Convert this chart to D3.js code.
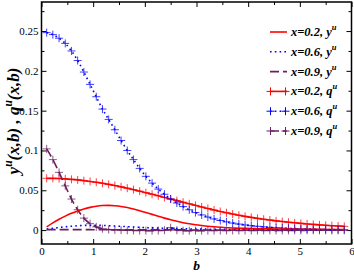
<!DOCTYPE html>
<html><head><meta charset="utf-8">
<script src="https://cdn.jsdelivr.net/npm/d3@7/dist/d3.min.js"></script>
<style>
html,body{margin:0;padding:0;background:#fff;}
svg{display:block;}
</style></head>
<body>
<svg id="chart" width="354" height="273"></svg>
<script>
// impact parameter grid
const bVals = [0.10,0.22,0.34,0.46,0.58,0.70,0.82,0.94,1.06,1.18,1.30,1.42,1.54,1.66,1.78,1.90,2.02,2.14,2.26,2.38,2.50,2.62,2.74,2.86,2.98,3.10,3.22,3.34,3.46,3.58,3.70,3.82,3.94,4.06,4.18,4.30,4.42,4.54,4.66,4.78,4.90,5.02,5.14,5.26,5.38,5.50,5.62,5.74,5.86];

const yu_x02 = [0.0040,0.0090,0.0135,0.0175,0.0210,0.0240,0.0265,0.0285,0.0300,0.0308,0.0310,0.0306,0.0297,0.0283,0.0265,0.0244,0.0221,0.0197,0.0173,0.0150,0.0129,0.0110,0.0093,0.0079,0.0067,0.0057,0.0048,0.0041,0.0035,0.0030,0.0026,0.0023,0.0021,0.0019,0.0017,0.0016,0.0015,0.0014,0.0013,0.0012,0.0011,0.0010,0.0010,0.0009,0.0009,0.0008,0.0008,0.0007,0.0007];
const yu_x06 = [0.0012,0.0022,0.0032,0.0041,0.0048,0.0054,0.0058,0.0060,0.0060,0.0058,0.0055,0.0051,0.0047,0.0043,0.0039,0.0035,0.0031,0.0028,0.0025,0.0022,0.0020,0.0018,0.0016,0.0014,0.0013,0.0012,0.0011,0.0010,0.0009,0.0008,0.0007,0.0007,0.0006,0.0006,0.0005,0.0005,0.0004,0.0004,0.0004,0.0003,0.0003,0.0003,0.0003,0.0002,0.0002,0.0002,0.0002,0.0002,0.0002];
const yu_x09 = [0.0006,0.0006,0.0006,0.0006,0.0005,0.0005,0.0005,0.0005,0.0004,0.0004,0.0004,0.0004,0.0003,0.0003,0.0003,0.0003,0.0003,0.0002,0.0002,0.0002,0.0002,0.0002,0.0002,0.0002,0.0001,0.0001,0.0001,0.0001,0.0001,0.0001,0.0001,0.0001,0.0001,0.0001,0.0001,0.0001,0.0001,0.0001,0.0001,0.0001,0.0001,0.0001,0.0001,0.0001,0.0001,0.0001,0.0001,0.0001,0.0001];
const qu_x02 = [0.0650,0.0649,0.0647,0.0643,0.0637,0.0630,0.0621,0.0611,0.0600,0.0588,0.0574,0.0559,0.0543,0.0526,0.0508,0.0489,0.0470,0.0450,0.0430,0.0410,0.0390,0.0370,0.0350,0.0330,0.0310,0.0290,0.0271,0.0252,0.0234,0.0217,0.0201,0.0186,0.0172,0.0159,0.0147,0.0136,0.0126,0.0116,0.0107,0.0099,0.0091,0.0084,0.0077,0.0071,0.0065,0.0060,0.0055,0.0051,0.0047];
const qu_x06 = [0.2480,0.2455,0.2410,0.2345,0.2250,0.2130,0.1985,0.1830,0.1675,0.1520,0.1390,0.1260,0.1125,0.1000,0.0885,0.0775,0.0675,0.0590,0.0515,0.0450,0.0390,0.0340,0.0295,0.0255,0.0220,0.0190,0.0163,0.0140,0.0120,0.0103,0.0088,0.0075,0.0064,0.0055,0.0047,0.0040,0.0034,0.0029,0.0025,0.0021,0.0018,0.0015,0.0013,0.0011,0.0009,0.0008,0.0007,0.0006,0.0005];
const qu_x09 = [0.1020,0.0885,0.0725,0.0555,0.0390,0.0255,0.0150,0.0080,0.0040,0.0018,0.0007,0.0002,0.0000,-0.0003,-0.0005,-0.0006,-0.0007,-0.0007,-0.0006,-0.0002,0.0030,-0.0002,-0.0008,-0.0008,-0.0007,-0.0007,-0.0006,-0.0006,-0.0006,-0.0005,-0.0005,-0.0005,-0.0005,-0.0005,-0.0005,-0.0004,-0.0004,-0.0004,-0.0004,-0.0004,-0.0004,-0.0004,-0.0003,-0.0003,-0.0003,-0.0003,-0.0003,-0.0003,-0.0003];

const xTicks = [0,1,2,3,4,5,6];
const yTicks = [0,0.05,0.1,0.15,0.2,0.25];
const yTickLabels = ["0","0.05","0.1","0.15","0.2","0.25"];

const seriesNames = ["x=0.2, y","x=0.6, y","x=0.9, y","x=0.2, q","x=0.6, q","x=0.9, q"];
const seriesData = [yu_x02, yu_x06, yu_x09, qu_x02, qu_x06, qu_x09];
const seriesColor = ["#ff0000","#0000ff","#6a1f5e","#ff0000","#0000ff","#6a1f5e"];
const seriesDash = [null,"1.6,3.2","9,4",null,"1.6,3.2","9,4"];
const seriesMarker = [false,false,false,true,true,true];

const SERIF = "Liberation Serif";
const svg = d3.select("#chart");
const pL = 41.5, pR = 351.5, pT = 2, pB = 244;

const x = d3.scaleLinear().domain([0,6]).range([pL, pR]);
const y = d3.scaleLinear().domain([-0.0175, 0.2865]).range([pB, pT]);

svg.append("defs").append("clipPath").attr("id","clip")
  .append("rect").attr("x",pL).attr("y",pT).attr("width",pR-pL).attr("height",pB-pT);

const xMinor = [0.5,1.5,2.5,3.5,4.5,5.5];
const yMinor = [0.025,0.075,0.125,0.175,0.225,0.275];

function drawAxis(axisGen, transform){
  const g = svg.append("g").attr("transform", transform).call(axisGen)
    .attr("font-family", SERIF).attr("font-size", 11);
  g.select(".domain").remove();
  g.selectAll("line").attr("stroke","#000").attr("stroke-width",1);
  g.selectAll("text").attr("fill","#000");
  return g;
}
drawAxis(d3.axisBottom(x).tickValues(xTicks).tickSize(-5).tickPadding(3.5).tickFormat(d3.format("d")), `translate(0,${pB})`);
drawAxis(d3.axisBottom(x).tickValues(xMinor).tickSize(-3).tickFormat(""), `translate(0,${pB})`);
drawAxis(d3.axisTop(x).tickValues(xTicks).tickSize(-5).tickFormat(""), `translate(0,${pT})`);
drawAxis(d3.axisTop(x).tickValues(xMinor).tickSize(-3).tickFormat(""), `translate(0,${pT})`);
drawAxis(d3.axisLeft(y).tickValues(yTicks).tickSize(-5).tickPadding(3).tickFormat((d,i)=>yTickLabels[i]), `translate(${pL},0)`);
drawAxis(d3.axisLeft(y).tickValues(yMinor).tickSize(-3).tickFormat(""), `translate(${pL},0)`);
drawAxis(d3.axisRight(y).tickValues(yTicks).tickSize(-5).tickFormat(""), `translate(${pR},0)`);
drawAxis(d3.axisRight(y).tickValues(yMinor).tickSize(-3).tickFormat(""), `translate(${pR},0)`);

const plot = svg.append("g").attr("clip-path","url(#clip)");
const lineGen = d3.line().x(d=>x(d[0])).y(d=>y(d[1])).curve(d3.curveMonotoneX);
const plus = "M-4,0H4M0,-4V4";

[3,4,5,0,1,2].forEach(i=>{
  const pts = bVals.map((bv,j)=>[bv, seriesData[i][j]]);
  plot.append("path").attr("d", lineGen(pts)).attr("fill","none")
    .attr("stroke", seriesColor[i]).attr("stroke-width",1.6)
    .attr("stroke-dasharray", seriesDash[i]);
  if(seriesMarker[i]){
    plot.append("g").selectAll("path").data(pts).join("path")
      .attr("d", plus)
      .attr("transform", d=>`translate(${x(d[0])},${y(d[1])})`)
      .attr("stroke", seriesColor[i]).attr("stroke-width",1).attr("stroke-opacity",0.75).attr("fill","none");
  }
});

svg.append("rect").attr("x",pL).attr("y",pT).attr("width",pR-pL).attr("height",pB-pT)
  .attr("fill","none").attr("stroke","#000").attr("stroke-width",1.5);

const legend = svg.append("g").attr("font-family", SERIF);
seriesNames.forEach((name,i)=>{
  const cy = 32 + 19.8*i;
  legend.append("line").attr("x1",270).attr("x2",287).attr("y1",cy).attr("y2",cy)
    .attr("stroke",seriesColor[i]).attr("stroke-width",1.6).attr("stroke-dasharray",seriesDash[i]);
  if(seriesMarker[i]){
    [270.5,285.5].forEach(mx=>{
      legend.append("path").attr("d",plus).attr("transform",`translate(${mx},${cy})`)
        .attr("stroke",seriesColor[i]).attr("stroke-width",1).attr("fill","none");
    });
  }
  const t = legend.append("text").attr("x",291).attr("y",cy+4)
    .attr("font-size",12.5).attr("font-weight","bold").attr("font-style","italic").attr("fill","#000");
  t.append("tspan").text(name);
  t.append("tspan").attr("dy",-6).attr("font-size",8.5).text("u");
});

const yl = svg.append("text").attr("transform","translate(19,121) rotate(-90)")
  .attr("font-family", SERIF)
  .attr("text-anchor","middle").attr("font-size",17).attr("font-weight","bold").attr("font-style","italic");
yl.append("tspan").text("y");
yl.append("tspan").attr("dy",-7).attr("font-size",11.5).text("u");
yl.append("tspan").attr("dy",7).text("(x,b) , q");
yl.append("tspan").attr("dy",-7).attr("font-size",11.5).text("u");
yl.append("tspan").attr("dy",7).text("(x,b)");

svg.append("text").attr("x",x(3)).attr("y",269.8).attr("text-anchor","middle")
  .attr("font-family", SERIF)
  .attr("font-size",13.5).attr("font-weight","bold").attr("font-style","italic").text("b");
</script>
</body></html>
